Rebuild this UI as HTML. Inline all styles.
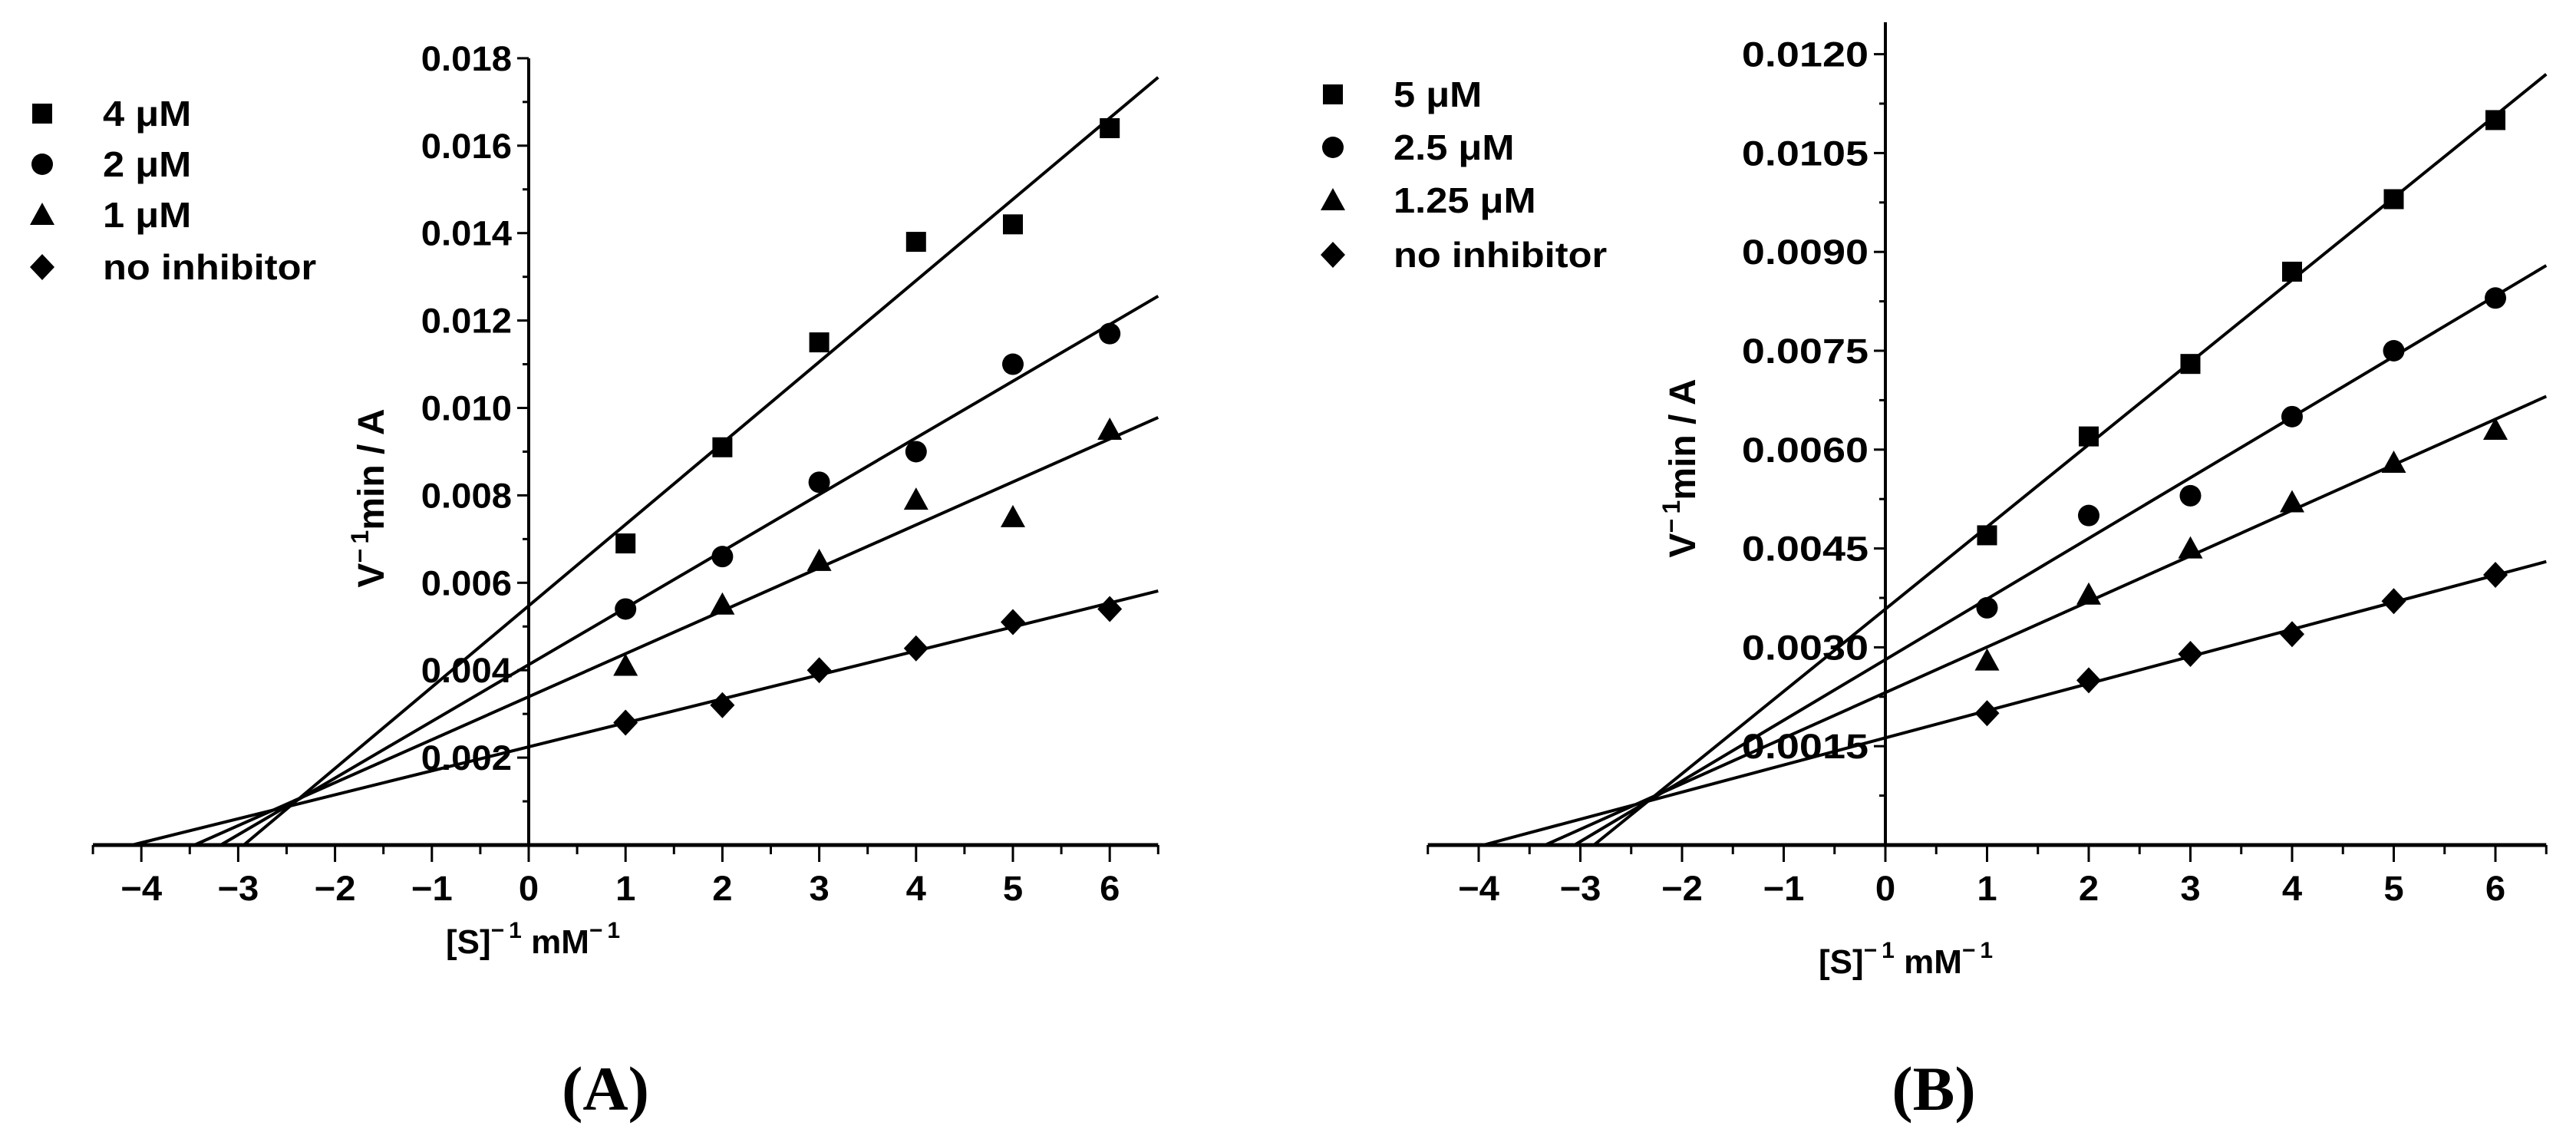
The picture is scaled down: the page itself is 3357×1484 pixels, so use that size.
<!DOCTYPE html>
<html><head><meta charset="utf-8"><style>
html,body{margin:0;padding:0;background:#fff;}
svg{display:block;}
text{font-family:"Liberation Sans",Arial,sans-serif;font-weight:bold;fill:#000;}
.cap{font-family:"Liberation Serif",serif;}
</style></head><body>
<svg id="fig" width="3357" height="1484" viewBox="0 0 3357 1484" xmlns="http://www.w3.org/2000/svg"></svg>
<script>
const xCats = [1, 2, 3, 4, 5, 6];
const xTicks = [-4, -3, -2, -1, 0, 1, 2, 3, 4, 5, 6];
const aLabels = ['4 μM', '2 μM', '1 μM', 'no inhibitor'];
const aS1 = [0.0069, 0.0091, 0.0115, 0.0138, 0.0142, 0.0164];
const aS2 = [0.0054, 0.0066, 0.0083, 0.0090, 0.0110, 0.0117];
const aS3 = [0.0041, 0.0055, 0.0065, 0.0079, 0.0075, 0.0095];
const aS4 = [0.0028, 0.0032, 0.0040, 0.0045, 0.0051, 0.0054];
const aYTicks = ['0.002','0.004','0.006','0.008','0.010','0.012','0.014','0.016','0.018'];
const bLabels = ['5 μM', '2.5 μM', '1.25 μM', 'no inhibitor'];
const bS1 = [0.0047, 0.0062, 0.0073, 0.0087, 0.0098, 0.0110];
const bS2 = [0.0036, 0.0050, 0.0053, 0.0065, 0.0075, 0.0083];
const bS3 = [0.0028, 0.0038, 0.0045, 0.0052, 0.0058, 0.0063];
const bS4 = [0.0020, 0.0025, 0.0029, 0.0032, 0.0037, 0.0041];
const bYTicks = ['0.0015','0.0030','0.0045','0.0060','0.0075','0.0090','0.0105','0.0120'];

const NS = 'http://www.w3.org/2000/svg';
const svg = document.getElementById('fig');
function mk(tag, attrs, parent) {
  const e = document.createElementNS(NS, tag);
  for (const k in attrs) e.setAttribute(k, attrs[k]);
  (parent || svg).appendChild(e);
  return e;
}
function fit(xs, ys) {
  const n = xs.length;
  const mx = xs.reduce((a, b) => a + b, 0) / n, my = ys.reduce((a, b) => a + b, 0) / n;
  let sxy = 0, sxx = 0;
  for (let i = 0; i < n; i++) { sxy += (xs[i] - mx) * (ys[i] - my); sxx += (xs[i] - mx) ** 2; }
  const m = sxy / sxx; return { m: m, b: my - m * mx };
}
function marker(g, kind, cx, cy) {
  let e;
  if (kind === 0) e = mk('rect', { x: cx - 13, y: cy - 13, width: 26, height: 26 }, g);
  else if (kind === 1) e = mk('circle', { cx: cx, cy: cy, r: 14 }, g);
  else if (kind === 2) e = mk('polygon', { points: `${cx},${cy - 16} ${cx + 16},${cy + 13} ${cx - 16},${cy + 13}` }, g);
  else e = mk('polygon', { points: `${cx},${cy - 17} ${cx + 16},${cy} ${cx},${cy + 17} ${cx - 16},${cy}` }, g);
  e.setAttribute('fill', '#000');
  return e;
}
function stext(g, x, y, str, size, sx, anchor) {
  const t = mk('text', { x: 0, y: 0, 'font-size': size, 'text-anchor': anchor || 'start', transform: `translate(${x},${y}) scale(${sx},1)` }, g);
  t.textContent = str;
  return t;
}

function panel(cfg) {
  const g = mk('g', {});
  
  
  const X = v => cfg.x0 + v * cfg.ux;
  const Y = v => cfg.y0 - v * cfg.uy;
  const xa = mk('g', {}, g);
  
  
  mk('line', { x1: X(-4.5), y1: cfg.y0, x2: X(6.5), y2: cfg.y0, stroke: '#000', 'stroke-width': 5 }, xa);
  for (let v = -4.5; v <= 6.51; v += 0.5) {
    const major = Math.abs(v - Math.round(v)) < 0.01;
    mk('line', { x1: X(v), y1: cfg.y0, x2: X(v), y2: cfg.y0 + (major ? 22 : 12), stroke: '#000', 'stroke-width': 3 }, xa);
  }
  xTicks.forEach(v => {
    const t = stext(xa, X(v), cfg.y0 + 72, (v < 0 ? '\u2212' + (-v) : String(v)), 45, 1.05, 'middle');
    
    
  });
  const ya = mk('g', {}, g);
  
  
  mk('line', { x1: cfg.x0, y1: cfg.yTop, x2: cfg.x0, y2: cfg.y0, stroke: '#000', 'stroke-width': 4 }, ya);
  cfg.yt.forEach((s, i) => {
    const v = parseFloat(s);
    mk('line', { x1: cfg.x0 - 15, y1: Y(v), x2: cfg.x0, y2: Y(v), stroke: '#000', 'stroke-width': 3 }, ya);
    const hv = v - cfg.step / 2;
    mk('line', { x1: cfg.x0 - 8, y1: Y(hv), x2: cfg.x0, y2: Y(hv), stroke: '#000', 'stroke-width': 3 }, ya);
    const t = stext(ya, cfg.x0 - 22, Y(v) + 16, s, 45, cfg.tsx, 'end');
    
    
  });
  const xt = mk('text', { x: cfg.xtX, y: cfg.xtY, 'font-size': 44 }, g);
  
  
  xt.innerHTML = '[S]<tspan dy="-20" font-size="30">\u2212\u20091</tspan><tspan dy="20"> mM</tspan><tspan dy="-20" font-size="30">\u2212\u20091</tspan>';
  const yt = mk('text', { x: 0, y: 0, 'font-size': 48, 'text-anchor': 'middle', transform: `translate(${cfg.ytX},${cfg.ytY}) rotate(-90)` }, g);
  
  
  yt.innerHTML = 'V<tspan dy="-20" font-size="32">\u2212\u20091</tspan><tspan dy="20">min / A</tspan>';
  cfg.series.forEach((ys, k) => {
    const sg = mk('g', {}, g);
    
    
    const f = fit(xCats, ys);
    const xs = -f.b / f.m;
    const ln = mk('line', { x1: X(xs), y1: Y(0), x2: X(6.5), y2: Y(f.b + f.m * 6.5), stroke: '#000', 'stroke-width': 4 }, sg);
    
    
    ys.forEach((v, i) => {
      const m = marker(sg, k, X(xCats[i]), Y(v));
      
      
    });
  });
  const lg = mk('g', {}, g);
  
  
  cfg.labels.forEach((s, k) => {
    const eg = mk('g', {}, lg);
    
    
    marker(eg, k, cfg.lgX, cfg.lgY[k]);
    stext(eg, cfg.lgTX, cfg.lgY[k] + 16, s, 46, 1.1, 'start');
  });
  const c = mk('text', { x: cfg.capX, y: 1446, 'font-size': 82, 'text-anchor': 'middle', class: 'cap' }, g);
  
  
  c.textContent = '(' + cfg.cap + ')';
}

panel({ name: 'panel-a', x0: 689, ux: 126.2, y0: 1101, uy: 113.9 / 0.002, yTop: 76, yt: aYTicks, step: 0.002, tsx: 1.05,
  xtX: 581, xtY: 1242, ytX: 500, ytY: 649, series: [aS1, aS2, aS3, aS4], labels: aLabels,
  lgX: 55, lgTX: 134, lgY: [148, 214, 280, 348], capX: 789, cap: 'A' });
panel({ name: 'panel-b', x0: 2457, ux: 132.5, y0: 1101, uy: 128.8 / 0.0015, yTop: 29, yt: bYTicks, step: 0.0015, tsx: 1.2,
  xtX: 2370, xtY: 1268, ytX: 2209, ytY: 610, series: [bS1, bS2, bS3, bS4], labels: bLabels,
  lgX: 1737, lgTX: 1816, lgY: [123, 192, 261, 332], capX: 2520, cap: 'B' });
</script>
</body></html>
